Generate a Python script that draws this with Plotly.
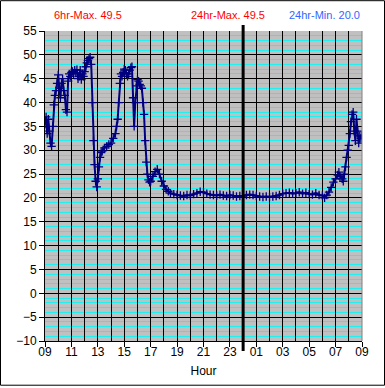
import plotly.graph_objects as go

# ---- data ----
times = [
    "09:00","09:05","09:10","09:15","09:20","09:25","09:30","09:35","09:40","09:45","09:50","09:55",
    "10:00","10:05","10:10","10:15","10:20","10:25","10:30","10:35","10:40","10:45","10:50","10:55",
    "11:00","11:05","11:10","11:15","11:20","11:25","11:30","11:35","11:40","11:45","11:50","11:55",
    "12:00","12:05","12:10","12:15","12:20","12:25","12:30","12:35","12:40","12:45","12:50","12:55",
    "13:00","13:05","13:10","13:15","13:20","13:30","13:40","13:50",
    "14:00","14:10","14:20","14:25","14:30","14:35","14:40","14:45","14:50","14:55",
    "15:00","15:05","15:10","15:15","15:20","15:25","15:30","15:35","15:40","15:45","15:50","15:55",
    "16:00","16:05","16:10","16:15","16:20","16:25","16:30","16:35","16:40","16:45","16:50","16:55",
    "17:00","17:10","17:20","17:30","17:40","17:50",
    "18:00","18:10","18:20","18:30","18:45",
    "19:00","19:15","19:30","19:45","20:00","20:15","20:30","20:45",
    "21:00","21:15","21:30","21:45","22:00","22:15","22:30","22:45",
    "23:00","23:15","23:30","23:45","00:00","00:15","00:30","00:45",
    "01:00","01:15","01:30","01:45","02:00","02:15","02:30","02:45",
    "03:00","03:15","03:30","03:45","04:00","04:15","04:30","04:45",
    "05:00","05:15","05:30","05:45","06:00","06:10","06:20","06:30","06:40","06:50",
    "07:00","07:10","07:15","07:20","07:30","07:35","07:40","07:45","07:50","07:55",
    "08:00","08:05","08:10","08:15","08:20","08:25","08:30","08:35","08:40","08:45","08:50","08:55",
    "09:00",
]
temps = [
    35.5, 37.0, 33.5, 36.5, 34.0, 31.5, 30.8, 35.0, 39.5, 41.5, 42.5, 44.0,
    45.8, 43.0, 41.0, 44.0, 45.0, 42.5, 41.5, 38.5, 38.0, 44.5, 46.0, 45.5,
    46.3, 46.5, 46.0, 46.8, 46.2, 46.9, 45.0, 45.5, 46.8, 44.8, 46.0, 45.5,
    46.5, 47.5, 48.3, 48.8, 49.2, 49.5, 48.0, 40.0, 32.0, 27.0, 23.5, 22.3,
    24.0, 26.5, 28.5, 29.5, 29.8, 30.5, 30.8, 31.2,
    31.5, 32.5, 33.5, 35.0, 36.5, 40.0, 44.0, 46.0, 45.5, 46.3,
    47.0, 46.8, 46.0, 45.5, 46.0, 46.8, 47.3, 47.5, 41.0, 35.0, 40.0, 43.5,
    44.8, 44.5, 43.8, 43.5, 43.0, 40.0, 37.5, 32.0, 27.5, 25.0, 23.8, 23.3,
    23.5, 24.5, 25.5, 26.0, 25.0, 23.5,
    22.5, 21.8, 21.4, 21.0, 20.8,
    20.6, 20.5, 20.4, 20.6, 20.5, 20.8, 21.0, 21.3,
    21.2, 20.9, 20.7, 20.6, 20.5, 20.7, 20.5, 20.4,
    20.6, 20.5, 20.3, 20.4, 20.4, 20.6, 20.7, 20.6,
    20.4, 20.3, 20.2, 20.3, 20.2, 20.3, 20.4, 20.6,
    20.9, 21.0, 21.1, 20.9, 21.0, 21.2, 20.9, 21.1,
    20.8, 20.7, 21.0, 20.6, 20.5, 20.0, 20.6, 21.2, 22.2, 23.3,
    24.0, 24.8, 25.4, 24.5, 24.0, 23.5, 25.0, 26.5, 28.5, 30.0,
    31.0, 33.5, 36.0, 37.5, 38.0, 34.0, 32.0, 36.5, 34.0, 31.5, 33.0, 32.5,
    33.0,
]
hour_grid = list(range(0, 25))
hour_labels = ["09", "", "11", "", "13", "", "15", "", "17", "", "19", "", "21", "",
               "23", "", "01", "", "03", "", "05", "", "07", "", "09"]
y_ticks = [-10, -5, 0, 5, 10, 15, 20, 25, 30, 35, 40, 45, 50, 55]
header_texts = ["6hr-Max. 49.5", "24hr-Max. 49.5", "24hr-Min. 20.0"]
midnight_hour = 15
start_hour = 9


def to_offset(t, idx, n):
    hh, mm = map(int, t.split(":"))
    off = (hh - start_hour) % 24 + mm / 60
    if idx == n - 1 and off == 0:
        off = 24
    return off


x_vals = [to_offset(t, i, len(times)) for i, t in enumerate(times)]

fig = go.Figure()
fig.add_trace(go.Scatter(
    x=x_vals, y=temps, mode="lines+markers",
    line=dict(color="#000080", width=2),
    marker=dict(symbol="cross-thin", size=6, line=dict(color="#000080", width=1.3), color="#000080"),
    showlegend=False, hoverinfo="skip",
))

L, R, T, B = 45, 23, 31, 45
W, H = 385, 388
pw, ph = W - L - R, H - T - B

fig.update_layout(
    width=W, height=H,
    margin=dict(l=L, r=R, t=T, b=B, pad=0),
    paper_bgcolor="white", plot_bgcolor="#c0c0c0",
    font=dict(family="Liberation Sans, Arial, sans-serif", size=12, color="black"),
    xaxis=dict(
        range=[0, 24], tickmode="array", tickvals=hour_grid, ticktext=hour_labels,
        showgrid=True, gridcolor="black", gridwidth=1,
        ticks="", 
        minor=dict(tickmode="linear", tick0=0, dtick=2, showgrid=False,
                   ticks="outside", ticklen=5, tickcolor="black", tickwidth=1),
        showline=True, linecolor="black", linewidth=1, zeroline=False,
        title=dict(text="Hour", standoff=8, font=dict(size=12)),
        tickfont=dict(size=12), fixedrange=True,
    ),
    yaxis=dict(
        range=[-10, 55], tickmode="array", tickvals=y_ticks,
        showgrid=True, gridcolor="black", gridwidth=1,
        minor=dict(dtick=1, tick0=0, showgrid=True, gridcolor="#20f0f0", gridwidth=1, ticks=""),
        ticks="outside", ticklen=5, tickcolor="black", tickwidth=1,
        showline=True, linecolor="black", linewidth=1, zeroline=False,
        tickfont=dict(size=12), fixedrange=True,
    ),
)

# header texts
hx = [88, 228, 324]
hcol = ["#ff0000", "#ff0000", "#3366ff"]
for txt, px, c in zip(header_texts, hx, hcol):
    fig.add_annotation(
        text=txt, xref="paper", yref="paper",
        x=(px - L) / pw, y=(H - B - 15) / ph, xanchor="center", yanchor="middle",
        showarrow=False, font=dict(size=11, color=c),
    )

# midnight marker line
fig.add_shape(type="line", xref="x", yref="paper", x0=midnight_hour, x1=midnight_hour,
              y0=-10 / ph, y1=(H - B - 25) / ph, line=dict(color="black", width=3))
# right edge of plot in gray
fig.add_shape(type="line", xref="paper", yref="paper", x0=1, x1=1, y0=0, y1=1,
              line=dict(color="#808080", width=1))
# outer border
fig.add_shape(type="rect", xref="paper", yref="paper",
              x0=(0.5 - L) / pw, x1=(W - 0.5 - L) / pw,
              y0=(H - B - (H - 0.5)) / ph, y1=(H - B - 0.5) / ph,
              line=dict(color="black", width=1), fillcolor="rgba(0,0,0,0)")

fig.write_html("out.html", config={"displayModeBar": False},
               post_script="document.body.style.margin='0';document.body.style.overflow='hidden';")
